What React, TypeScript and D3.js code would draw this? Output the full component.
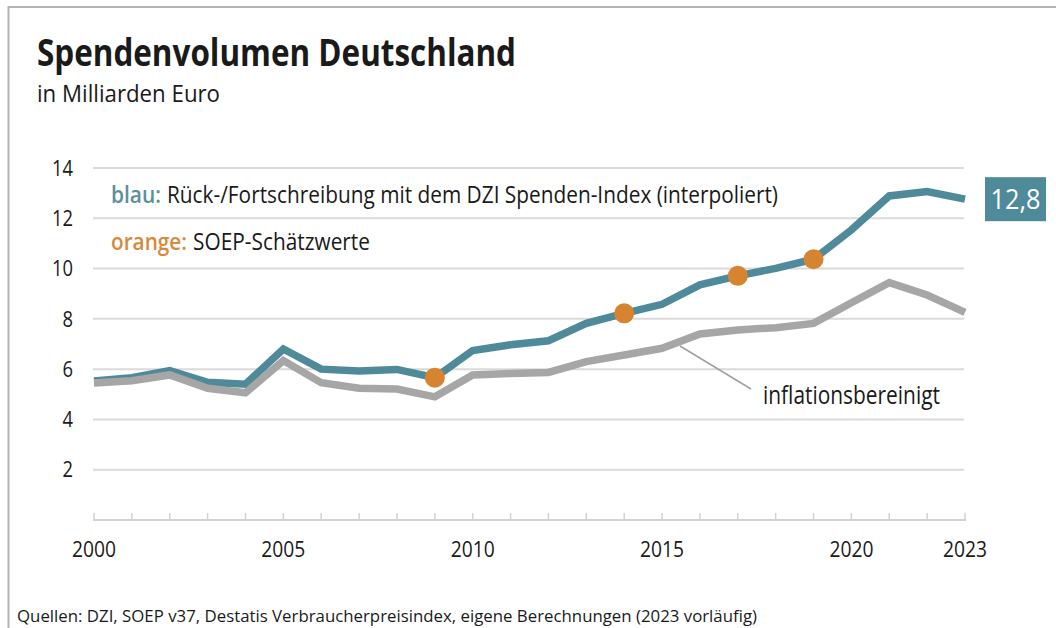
import React from "react";
import * as d3 from "d3";

const years = [2000, 2001, 2002, 2003, 2004, 2005, 2006, 2007, 2008, 2009, 2010, 2011, 2012, 2013, 2014, 2015, 2016, 2017, 2018, 2019, 2020, 2021, 2022, 2023];
const nominal = [5.53, 5.66, 5.94, 5.48, 5.40, 6.80, 6.00, 5.93, 5.99, 5.66, 6.74, 6.97, 7.13, 7.82, 8.22, 8.58, 9.35, 9.71, 10.01, 10.37, 11.54, 12.89, 13.06, 12.76];
const real = [5.45, 5.54, 5.77, 5.24, 5.06, 6.34, 5.46, 5.24, 5.21, 4.90, 5.77, 5.83, 5.87, 6.30, 6.56, 6.83, 7.40, 7.56, 7.65, 7.82, 8.64, 9.44, 8.95, 8.26];
const soepYears = [2009, 2014, 2017, 2019];
const soepValues = [5.66, 8.22, 9.71, 10.37];
const yTicks = [2, 4, 6, 8, 10, 12, 14];
const xLabels = [2000, 2005, 2010, 2015, 2020, 2023];
const lastLabel = "12,8";

const BLUE = "#4f8a9a";
const GRAY = "#a6a6a6";
const ORANGE = "#d6842f";
const GRID = "#dadada";
const FONT = "'Open Sans', 'Noto Sans', sans-serif";

export default function App() {
  const x = d3.scaleLinear().domain([2000, 2023]).range([94, 965]);
  const y = d3.scaleLinear().domain([0, 14]).range([520, 168]);

  const line = d3
    .line<number>()
    .x((_, i) => x(years[i]))
    .y((d) => y(d));

  const lastY = y(nominal[nominal.length - 1]);
  const boxX = x(2023) + 20;

  return (
    <svg
      width={1056}
      height={628}
      style={{ position: "absolute", left: 0, top: 0, display: "block", background: "#fff" }}
      fontFamily={FONT}
    >
      {/* frame */}
      <line x1={8.5} x2={1056} y1={7} y2={7} stroke="#b4b4b4" strokeWidth={2} />
      <line x1={8.5} x2={8.5} y1={6} y2={628} stroke="#b4b4b4" strokeWidth={2} />

      {/* titles */}
      <text x={37} y={66} fontSize={37} fontWeight={700} fill="#1a1a1a" textLength={479} lengthAdjust="spacingAndGlyphs">
        Spendenvolumen Deutschland
      </text>
      <text x={37} y={102} fontSize={24} fill="#1a1a1a" textLength={183} lengthAdjust="spacingAndGlyphs">
        in Milliarden Euro
      </text>

      {/* gridlines */}
      {yTicks.map((t) => (
        <g key={t}>
          <line x1={93} x2={964} y1={y(t)} y2={y(t)} stroke={GRID} strokeWidth={2} />
          <text x={73} y={y(t)} dy="0.37em" textAnchor="end" fontSize={21} fill="#1a1a1a"
            textLength={String(t).length * 10.5} lengthAdjust="spacingAndGlyphs">
            {t}
          </text>
        </g>
      ))}

      {/* x axis */}
      <line x1={93} x2={966} y1={y(0)} y2={y(0)} stroke="#d2d2d2" strokeWidth={2} />
      {years.map((yr) => (
        <line key={yr} x1={x(yr)} x2={x(yr)} y1={y(0)} y2={y(0) - 7} stroke="#d2d2d2" strokeWidth={1.5} />
      ))}
      {xLabels.map((yr) => (
        <text key={yr} x={x(yr)} y={557} textAnchor="middle" fontSize={21} fill="#1a1a1a"
          textLength={44} lengthAdjust="spacingAndGlyphs">
          {yr}
        </text>
      ))}

      {/* legend text */}
      <text x={111} y={203} fontSize={24} fontWeight={600} fill="#5a909e" textLength={50} lengthAdjust="spacingAndGlyphs">
        blau:
      </text>
      <text x={167} y={203} fontSize={24} fill="#1a1a1a" textLength={611} lengthAdjust="spacingAndGlyphs">
        Rück-/Fortschreibung mit dem DZI Spenden-Index (interpoliert)
      </text>
      <text x={111} y={250} fontSize={24} fontWeight={600} fill="#d68a3a" textLength={76} lengthAdjust="spacingAndGlyphs">
        orange:
      </text>
      <text x={193} y={250} fontSize={24} fill="#1a1a1a" textLength={177} lengthAdjust="spacingAndGlyphs">
        SOEP-Schätzwerte
      </text>

      {/* lines */}
      <path d={line(nominal) ?? ""} fill="none" stroke={BLUE} strokeWidth={7.5} />
      <path d={line(real) ?? ""} fill="none" stroke={GRAY} strokeWidth={7.5} />

      {soepYears.map((yr, i) => (
        <circle key={yr} cx={x(yr)} cy={y(soepValues[i])} r={10} fill={ORANGE} />
      ))}

      {/* annotation */}
      <line x1={680} y1={346} x2={751} y2={389} stroke="#a0a0a0" strokeWidth={1.5} />
      <text x={763} y={404} fontSize={26} fill="#1a1a1a" textLength={177} lengthAdjust="spacingAndGlyphs">
        inflationsbereinigt
      </text>

      {/* last value box */}
      <rect x={boxX} y={lastY - 22} width={61} height={44} fill={BLUE} />
      <text x={boxX + 30.5} y={lastY + 10} textAnchor="middle" fontSize={28} fill="#fff" textLength={50} lengthAdjust="spacingAndGlyphs">
        {lastLabel}
      </text>

      {/* source */}
      <text x={17} y={622} fontSize={16.5} fill="#1a1a1a" textLength={740} lengthAdjust="spacingAndGlyphs">
        Quellen: DZI, SOEP v37, Destatis Verbraucherpreisindex, eigene Berechnungen (2023 vorläufig)
      </text>
    </svg>
  );
}
